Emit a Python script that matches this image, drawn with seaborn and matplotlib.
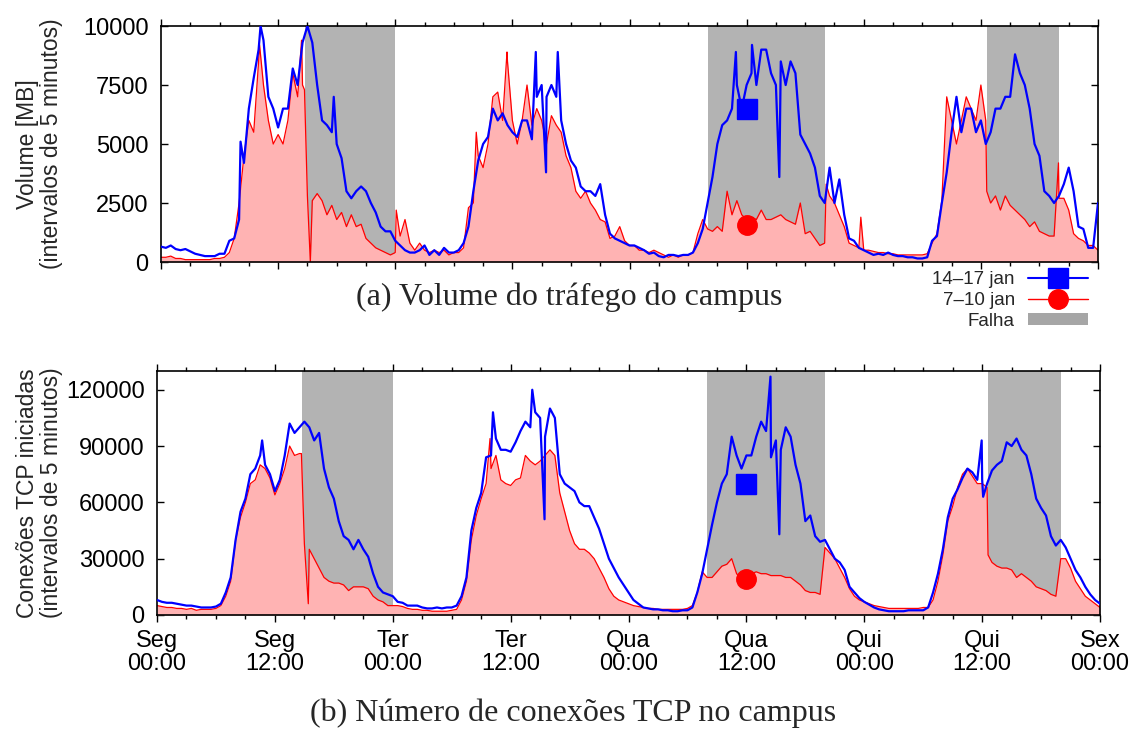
import numpy as np
import pandas as pd
import matplotlib
matplotlib.use('Agg')
import matplotlib.pyplot as plt
import seaborn as sns
from matplotlib.lines import Line2D
from matplotlib.patches import Patch

sns.set_style('ticks')
plt.rcParams['font.family'] = ['Liberation Sans', 'DejaVu Sans']

# horas desde Seg 00:00, amostras a cada 30 min
hours = np.arange(0, 96.5, 0.5)

# (a) volume [MB], 14-17 jan
vol_jan14 = [
    650, 600, 700, 550, 500, 550, 450, 350, 300, 250, 250, 250,
    350, 350, 900, 1000, 1800, 4200, 6500, 7800, 9000, 9400, 7000, 6500,
    5700, 6500, 6500, 8200, 7500, 9300, 10000, 9300, 7500, 6000, 5800, 5500,
    5000, 4400, 3000, 2700, 3000, 3200, 3000, 2500, 2100, 1500, 1300, 1300,
    900, 700, 500, 400, 400, 500, 700, 300, 500, 300, 600, 400,
    400, 500, 800, 1500, 3000, 4300, 5000, 5300, 6500, 6000, 6300, 5800,
    5500, 5300, 6000, 6000, 5200, 7000, 7500, 7000, 7500, 7000, 6000, 5000,
    4300, 4000, 3200, 3000, 3000, 2800, 3300, 2000, 1200, 1000, 900, 800,
    700, 700, 600, 500, 350, 400, 250, 200, 300, 300, 250, 300,
    300, 400, 800, 1400, 2500, 3600, 5000, 5800, 6000, 6500, 7500, 6500,
    7500, 8000, 7500, 9000, 9000, 8000, 7500, 8500, 7500, 8500, 8000, 5400,
    5000, 4600, 4000, 2800, 2500, 4000, 2500, 3500, 2000, 1000, 900, 600,
    500, 400, 300, 350, 300, 400, 300, 250, 250, 200, 200, 150,
    150, 200, 900, 1100, 2500, 3800, 5500, 7000, 5500, 6500, 6500, 5500,
    6000, 5000, 5500, 6500, 6500, 7000, 7000, 8800, 8000, 7500, 6500, 5000,
    4500, 3000, 2800, 2500, 2800, 3300, 4000, 3000, 1500, 1400, 600, 600,
    2500,
]
vol_jan14_pico_h = [8.15, 10.2, 17.7, 38.4, 39.45, 40.65, 58.9, 60.55, 63.35]
vol_jan14_pico_v = [5100, 10000, 7000, 8900, 3800, 8900, 8900, 9200, 3600]

# (a) volume [MB], 7-10 jan
vol_jan07 = [
    200, 200, 250, 150, 150, 100, 100, 100, 100, 100, 100, 150,
    150, 200, 400, 1000, 2500, 4500, 6000, 5500, 8500, 7500, 6000, 5000,
    5400, 5000, 6000, 8000, 7000, 7500, 2800, 2600, 2900, 2600, 2000, 2400,
    1800, 2100, 1500, 2000, 1500, 1600, 1000, 800, 600, 500, 400, 300,
    400, 1100, 1800, 800, 500, 800, 500, 400, 500, 400, 500, 300,
    400, 400, 600, 2300, 2500, 4500, 4000, 5000, 7000, 7200, 6000, 8500,
    6000, 5000, 6000, 7500, 5800, 6500, 6000, 5000, 6200, 5800, 5500, 4500,
    4000, 3000, 2700, 3000, 2500, 2200, 1800, 1700, 1000, 1100, 1500, 900,
    700, 700, 500, 500, 400, 500, 400, 300, 200, 300, 200, 300,
    300, 400, 1200, 1800, 1400, 1300, 1500, 1300, 3000, 2000, 2600, 2000,
    1800, 1900, 1800, 2200, 1800, 1800, 1900, 2000, 1800, 1700, 1600, 2500,
    1200, 1300, 1000, 700, 800, 2800, 2500, 2000, 1500, 800, 700, 600,
    500, 500, 450, 400, 400, 350, 350, 300, 300, 300, 300, 300,
    300, 350, 800, 1200, 2600, 7000, 6000, 5000, 6000, 7000, 6500, 6000,
    7500, 6000, 2500, 2800, 2200, 2800, 2400, 2200, 2000, 1800, 1500, 1700,
    1300, 1200, 1100, 1100, 2700, 2700, 2200, 1200, 1000, 900, 700, 700,
    500,
]
vol_jan07_pico_h = [10.1, 14.4, 14.7, 15.3, 24.1, 32.3, 35.45, 68.15, 71.7, 84.6, 91.95]
vol_jan07_pico_v = [9200, 9400, 7300, 0, 2200, 5500, 8900, 3300, 1900, 3000, 4200]

# (b) conexoes TCP iniciadas, 14-17 jan
tcp_jan14 = [
    8000, 7000, 6500, 6500, 6000, 5500, 5000, 5000, 4500, 4000, 4000, 4000,
    4500, 6000, 12000, 20000, 40000, 55000, 62000, 75000, 78000, 85000, 80000, 75000,
    66000, 72000, 85000, 102000, 97000, 100000, 103000, 100000, 93000, 97000, 78000, 68000,
    62000, 50000, 42000, 40000, 35000, 40000, 35000, 31000, 22000, 15000, 12000, 11000,
    10000, 7000, 6500, 5000, 5000, 5000, 4000, 3500, 3500, 4000, 3500, 4000,
    4000, 5000, 10000, 20000, 45000, 57000, 65000, 84000, 85000, 94000, 88000, 88000,
    87000, 92000, 98000, 103000, 100000, 108000, 105000, 95000, 110000, 105000, 75000, 70000,
    68000, 66000, 60000, 58000, 58000, 52000, 46000, 38000, 30000, 25000, 20000, 16000,
    12000, 8000, 6000, 4000, 3500, 3000, 3000, 2500, 2500, 2000, 2000, 2500,
    2500, 4000, 12000, 22000, 35000, 48000, 60000, 70000, 75000, 95000, 85000, 78000,
    85000, 85000, 95000, 103000, 98000, 84000, 93000, 88000, 100000, 95000, 80000, 70000,
    50000, 53000, 42000, 39000, 40000, 35000, 30000, 28000, 24000, 15000, 12000, 9000,
    7000, 5500, 4000, 3000, 2500, 2000, 2000, 2000, 2000, 2500, 2500, 2500,
    2500, 4000, 12000, 22000, 35000, 52000, 62000, 67000, 73000, 78000, 76000, 72000,
    72000, 70000, 77000, 80000, 82000, 92000, 90000, 94000, 88000, 85000, 75000, 62000,
    57000, 53000, 42000, 37000, 40000, 36000, 30000, 24000, 20000, 15000, 11000, 8000,
    6000,
]
tcp_jan14_pico_h = [10.7, 34.2, 38.2, 39.45, 62.45, 63.35, 83.95, 84.1]
tcp_jan14_pico_v = [93000, 108000, 120000, 51000, 127000, 43000, 93000, 63000]

# (b) conexoes TCP iniciadas, 7-10 jan
tcp_jan07 = [
    5000, 4500, 4000, 4000, 3500, 3500, 3000, 3500, 2500, 3000, 3000, 3000,
    3500, 5000, 10000, 18000, 40000, 52000, 60000, 70000, 72000, 80000, 78000, 73000,
    64000, 70000, 78000, 90000, 85000, 86000, 38000, 35000, 30000, 25000, 20000, 18000,
    17000, 17000, 16000, 13000, 15000, 15000, 15000, 14000, 10000, 8000, 7000, 5000,
    5000, 5000, 4500, 3500, 3000, 3000, 2500, 2500, 2000, 2000, 2000, 2000,
    2500, 3000, 8000, 18000, 40000, 53000, 62000, 70000, 78000, 85000, 72000, 70000,
    69000, 72000, 73000, 85000, 82000, 80000, 82000, 85000, 88000, 85000, 65000, 55000,
    45000, 38000, 35000, 35000, 33000, 30000, 25000, 20000, 14000, 10000, 8000, 7000,
    6000, 5000, 4500, 4000, 3500, 3500, 3000, 3000, 3000, 3000, 3000, 3000,
    3500, 5000, 12000, 23000, 20000, 20000, 23000, 26000, 27000, 30000, 22000, 19000,
    20000, 22000, 23000, 22000, 22000, 21000, 21000, 21000, 20000, 20000, 18000, 16000,
    13000, 12000, 12000, 11000, 36000, 33000, 30000, 25000, 20000, 14000, 10000, 8000,
    7000, 6000, 5000, 4500, 4000, 3500, 3500, 3500, 3500, 3500, 3500, 3500,
    4000, 4000, 8000, 18000, 32000, 50000, 58000, 68000, 75000, 78000, 74000, 70000,
    70000, 68000, 28000, 26000, 25000, 25000, 24000, 20000, 22000, 20000, 18000, 15000,
    14000, 13000, 11000, 10000, 30000, 30000, 25000, 18000, 14000, 10000, 8000, 6000,
    4000,
]
tcp_jan07_pico_h = [14.7, 15.4, 33.9, 84.6]
tcp_jan07_pico_v = [86000, 6000, 94000, 32000]

# periodos de falha (horas)
falha_inicio = [14.8, 56.0, 84.6]
falha_fim = [24.0, 68.0, 92.0]

# pontos marcados em Qua 12:00
marca_hora = 60
vol_marca = [6500, 1550]
tcp_marca = [70000, 19000]

dias = ['Seg', 'Seg', 'Ter', 'Ter', 'Qua', 'Qua', 'Qui', 'Qui', 'Sex']
horarios = ['00:00', '12:00'] * 4 + ['00:00']
rotulos_x = [d + '\n' + h for d, h in zip(dias, horarios)]

COR_AZUL = '#0000ff'
COR_VERM = '#ff0000'
COR_ROSA = '#ffb3b3'
COR_CINZA = '#b3b3b3'


def serie(base, pico_h, pico_v):
    df = pd.DataFrame({
        'hora': np.concatenate([hours, pico_h]),
        'valor': np.concatenate([base, pico_v]),
    })
    return df.sort_values('hora').reset_index(drop=True)


def painel(ax, azul, verm, marcas, ymax, yticks, ylabel, xlabels):
    for a, b in zip(falha_inicio, falha_fim):
        ax.axvspan(a, b, color=COR_CINZA, lw=0, zorder=0)
    ax.fill_between(verm['hora'], verm['valor'], color=COR_ROSA, lw=0, zorder=1)
    sns.lineplot(data=verm, x='hora', y='valor', ax=ax, color=COR_VERM,
                 lw=0.9, estimator=None, zorder=2)
    sns.lineplot(data=azul, x='hora', y='valor', ax=ax, color=COR_AZUL,
                 lw=1.6, estimator=None, zorder=3)
    ax.plot([marca_hora], [marcas[0]], marker='s', ms=14, color=COR_AZUL,
            ls='none', zorder=4)
    ax.plot([marca_hora], [marcas[1]], marker='o', ms=14, color=COR_VERM,
            ls='none', zorder=4)

    ax.set_xlim(0, 96)
    ax.set_ylim(0, ymax)
    ax.set_xticks(range(0, 97, 12))
    ax.set_xticks(range(0, 97, 3), minor=True)
    ax.set_yticks(yticks)
    ax.set_yticklabels([str(v) for v in yticks])
    if xlabels:
        ax.set_xticklabels(rotulos_x, linespacing=1.05)
    else:
        ax.set_xticklabels([])
    ax.tick_params(axis='x', which='both', direction='out', top=True,
                   bottom=True, labelsize=17, pad=6, colors='black')
    ax.tick_params(axis='x', which='major', length=5, width=1)
    ax.tick_params(axis='x', which='minor', length=3, width=1)
    ax.tick_params(axis='y', direction='in', left=True, right=True,
                   length=5, width=1, labelsize=17, pad=9, colors='black')
    ax.set_xlabel('')
    ax.set_ylabel(ylabel, fontsize=16.5, linespacing=1.05)
    for s in ax.spines.values():
        s.set_linewidth(1.2)
        s.set_color('black')


fig = plt.figure(figsize=(11.37, 7.29), dpi=100)
ax1 = fig.add_axes([0.1416, 0.6406, 0.8241, 0.3237])
ax2 = fig.add_axes([0.1381, 0.1564, 0.8294, 0.3347])

painel(ax1,
       serie(vol_jan14, vol_jan14_pico_h, vol_jan14_pico_v),
       serie(vol_jan07, vol_jan07_pico_h, vol_jan07_pico_v),
       vol_marca, 10000, [0, 2500, 5000, 7500, 10000],
       'Volume [MB]\n(intervalos de 5 minutos)', False)
painel(ax2,
       serie(tcp_jan14, tcp_jan14_pico_h, tcp_jan14_pico_v),
       serie(tcp_jan07, tcp_jan07_pico_h, tcp_jan07_pico_v),
       tcp_marca, 130000, [0, 30000, 60000, 90000, 120000],
       'Conexões TCP iniciadas\n(intervalos de 5 minutos)', True)

ax1.yaxis.set_label_coords(-0.1047, 0.5)
ax2.yaxis.set_label_coords(-0.0997, 0.5)

fig.text(0.501, 1 - 297 / 729, '(a) Volume do tráfego do campus',
         ha='center', va='center', fontsize=23, family='Liberation Serif')
fig.text(0.504, 1 - 713 / 729, '(b) Número de conexões TCP no campus',
         ha='center', va='center', fontsize=23, family='Liberation Serif')

handles = [
    Line2D([], [], color=COR_AZUL, lw=1.5, marker='s', ms=14),
    Line2D([], [], color=COR_VERM, lw=1.0, marker='o', ms=14),
    Patch(facecolor='#a6a6a6', edgecolor='none'),
]
fig.legend(handles, ['14–17 jan', '7–10 jan', 'Falha'],
           loc='upper right', bbox_to_anchor=(0.957, 0.628),
           frameon=False, fontsize=13.5, markerfirst=False,
           handlelength=3.2, handletextpad=0.7, labelspacing=0.2,
           borderpad=0, borderaxespad=0, handleheight=0.6)

fig.savefig('out.png', dpi=100)
